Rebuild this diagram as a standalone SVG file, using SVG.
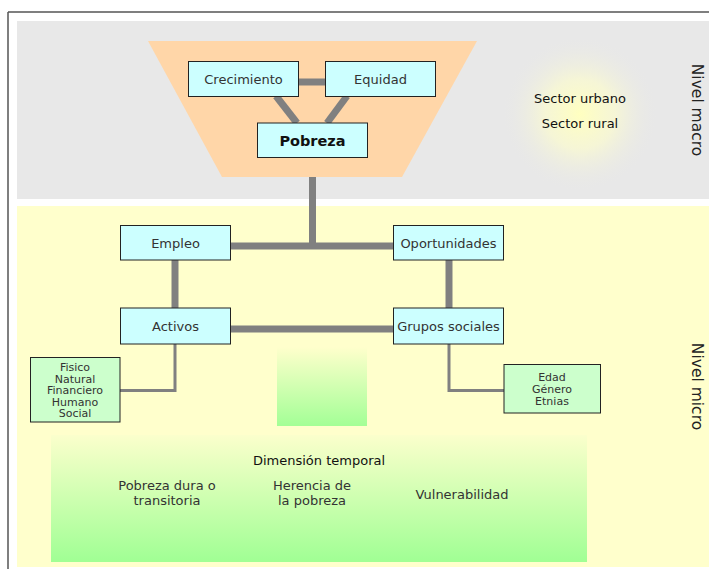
<svg xmlns="http://www.w3.org/2000/svg" width="709" height="569" viewBox="0 0 709 569">
<style>
text{font-family:"DejaVu Sans",sans-serif;text-anchor:middle;fill:#222}
.box{fill:#ccffff;stroke:#222;stroke-width:1}
.gbox{fill:#ccffcc;stroke:#222;stroke-width:1}
.lbl{font-size:13px;fill:#333}
.sm{font-size:11px;fill:#333}
.thick{stroke:#808080;stroke-width:7;fill:none}
.thin{stroke:#808080;stroke-width:3;fill:none}
.side{font-size:15.5px;fill:#222}
</style>
<defs>
<radialGradient id="glow" cx="0.5" cy="0.5" r="0.5">
<stop offset="0" stop-color="#ffffc0" stop-opacity="1"/>
<stop offset="0.45" stop-color="#fafad0" stop-opacity="0.75"/>
<stop offset="1" stop-color="#e8e8e8" stop-opacity="0"/>
</radialGradient>
<linearGradient id="g1" x1="0" y1="0" x2="0" y2="1">
<stop offset="0" stop-color="#ffffcc"/>
<stop offset="1" stop-color="#a3ff96"/>
</linearGradient>
<linearGradient id="g2" x1="0" y1="0" x2="0" y2="1">
<stop offset="0" stop-color="#fbffcc"/>
<stop offset="1" stop-color="#a0ff94"/>
</linearGradient>
</defs>
<rect x="0" y="0" width="709" height="569" fill="#ffffff"/>
<g id="frame">
<line x1="8" y1="12" x2="709" y2="12" stroke="#555" stroke-width="1.5"/>
<line x1="8" y1="12" x2="8" y2="569" stroke="#555" stroke-width="1.5"/>
</g>
<g id="macro-region">
<rect x="17" y="21" width="692" height="178" fill="#e8e8e8"/>
<circle cx="580" cy="114" r="78" fill="url(#glow)"/>
<polygon points="148,41 477,41 402,177 222,177" fill="#ffd6a8"/>
<text x="580" y="103" style="font-size:13px;fill:#111">Sector urbano</text>
<text x="580" y="128" style="font-size:13px;fill:#111">Sector rural</text>
<text class="side" transform="translate(692,110) rotate(90)">Nivel macro</text>
</g>
<g id="micro-region">
<rect x="17" y="206" width="692" height="361" fill="#ffffcc"/>
<rect x="277" y="347" width="90" height="79" fill="url(#g1)"/>
<rect x="51" y="435" width="536" height="127" fill="url(#g2)"/>
<text class="side" transform="translate(692,386.5) rotate(90)">Nivel micro</text>
</g>
<g id="connectors">
<line class="thick" x1="298" y1="82" x2="325" y2="82"/>
<line class="thick" x1="276" y1="96" x2="297" y2="123"/>
<line class="thick" x1="347" y1="96" x2="327" y2="123"/>
<line class="thick" x1="312.5" y1="177" x2="312.5" y2="246"/>
<line class="thick" x1="230" y1="246" x2="393" y2="246"/>
<line class="thick" x1="175" y1="260" x2="175" y2="308"/>
<line class="thick" x1="449" y1="260" x2="449" y2="308"/>
<line class="thick" x1="230" y1="329" x2="393" y2="329"/>
<polyline class="thin" points="175,344 175,390.5 120,390.5"/>
<polyline class="thin" points="449,344 449,390.5 504,390.5"/>
</g>
<g id="node-crecimiento">
<rect class="box" x="188.5" y="61.5" width="110" height="35"/>
<text class="lbl" x="243.5" y="84">Crecimiento</text>
</g>
<g id="node-equidad">
<rect class="box" x="325.5" y="61.5" width="110" height="35"/>
<text class="lbl" x="380.5" y="84">Equidad</text>
</g>
<g id="node-pobreza">
<rect class="box" x="257.5" y="123" width="110" height="34.5"/>
<text x="312.5" y="146" style="font-size:14.5px;font-weight:bold;fill:#111">Pobreza</text>
</g>
<g id="node-empleo">
<rect class="box" x="120.5" y="225.5" width="110" height="34.5"/>
<text class="lbl" x="175.5" y="248">Empleo</text>
</g>
<g id="node-oportunidades">
<rect class="box" x="393.5" y="225.5" width="110" height="34.5"/>
<text class="lbl" x="448.5" y="248">Oportunidades</text>
</g>
<g id="node-activos">
<rect class="box" x="120.5" y="308" width="110" height="36"/>
<text class="lbl" x="175.5" y="331">Activos</text>
</g>
<g id="node-grupos">
<rect class="box" x="393.5" y="308" width="110" height="36"/>
<text class="lbl" x="448.5" y="331">Grupos sociales</text>
</g>
<g id="node-capitales">
<rect class="gbox" x="30.5" y="357.5" width="89.5" height="64.5"/>
<text class="sm" x="75" y="371">Fisico</text>
<text class="sm" x="75" y="382.5">Natural</text>
<text class="sm" x="75" y="394">Financiero</text>
<text class="sm" x="75" y="405.5">Humano</text>
<text class="sm" x="75" y="417">Social</text>
</g>
<g id="node-edad">
<rect class="gbox" x="504" y="364.5" width="96.5" height="48.5"/>
<text class="sm" x="552" y="381">Edad</text>
<text class="sm" x="552" y="393">Género</text>
<text class="sm" x="552" y="405">Etnias</text>
</g>
<g id="node-temporal">
<text x="319" y="465" style="font-size:13px;fill:#111">Dimensión temporal</text>
<text class="lbl" x="167" y="490">Pobreza dura o</text>
<text class="lbl" x="167" y="505">transitoria</text>
<text class="lbl" x="312" y="490">Herencia de</text>
<text class="lbl" x="312" y="505">la pobreza</text>
<text class="lbl" x="462" y="499">Vulnerabilidad</text>
</g>
</svg>
